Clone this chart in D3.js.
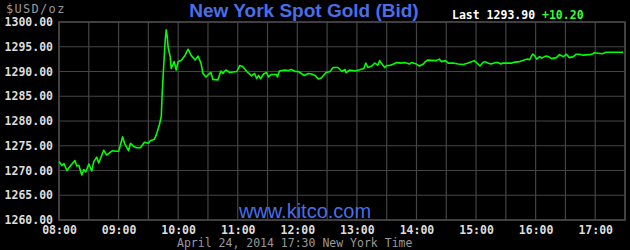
<!DOCTYPE html>
<html>
<head>
<meta charset="utf-8">
<script src="https://cdn.jsdelivr.net/npm/d3@7"></script>
<style>
  body { margin: 0; background: #000; }
  svg { display: block; }
  .mono { font-family: "DejaVu Sans Mono", "Liberation Mono", monospace; }
</style>
</head>
<body>
<svg id="chart" width="630" height="250"></svg>
<script>
// minutes after 08:00 and the bid at that time
const minutes = [0, 3, 5, 8, 11, 16, 18, 20, 23, 25, 27, 30, 33, 35, 38, 40, 45, 48, 51, 54,
  57, 60, 61, 64, 66, 70, 72, 75, 78, 82, 86, 90, 92, 96, 98, 101, 103, 104, 105, 107,
  108, 109, 110, 112, 113, 116, 118, 120, 123, 127, 130, 133, 137, 140, 143, 145, 148, 150, 153, 155,
  160, 161, 163, 165, 168, 172, 179, 182, 185, 189, 194, 197, 199, 201, 203, 206, 209, 211, 214, 219,
  220, 222, 227, 231, 234, 238, 241, 244, 247, 251, 254, 258, 261, 264, 269, 273, 276, 281, 285, 288,
  289, 293, 298, 302, 307, 309, 311, 315, 318, 321, 323, 326, 328, 330, 333, 337, 340, 345, 348, 353,
  355, 360, 363, 367, 369, 371, 380, 383, 385, 389, 392, 397, 402, 407, 412, 416, 418, 421, 424, 427,
  429, 432, 435, 440, 442, 445, 447, 456, 459, 464, 467, 471, 474, 477, 479, 481, 484, 486, 490, 493,
  496, 501, 504, 508, 511, 514, 518, 521, 524, 528, 534, 538, 539, 547, 551, 568];
const bids = [1271.8, 1271.0, 1271.4, 1270.0, 1270.8, 1272.0, 1270.9, 1271.0, 1269.1, 1270.2, 1269.7, 1271.3, 1269.9, 1271.8, 1272.7, 1271.5, 1274.1, 1273.1, 1273.6, 1274.0,
  1273.9, 1273.9, 1274.5, 1276.8, 1275.5, 1274.0, 1275.5, 1274.9, 1274.6, 1274.6, 1275.7, 1275.5, 1276.0, 1276.3, 1277.2, 1279.2, 1280.9, 1285.9, 1289.6, 1296.4,
  1298.4, 1297.0, 1294.7, 1293.0, 1290.6, 1292.0, 1290.3, 1292.0, 1292.2, 1293.3, 1294.5, 1293.3, 1292.3, 1293.1, 1291.7, 1289.6, 1288.9, 1289.3, 1289.8, 1288.4,
  1288.3, 1288.9, 1290.1, 1289.6, 1290.3, 1289.8, 1290.0, 1291.2, 1291.0, 1290.0, 1289.1, 1289.6, 1288.6, 1289.2, 1288.5, 1289.5, 1289.8, 1288.9, 1289.4, 1289.4,
  1288.9, 1290.1, 1290.3, 1290.2, 1290.4, 1290.0, 1290.0, 1289.6, 1289.2, 1289.6, 1289.5, 1289.2, 1288.5, 1288.7, 1289.8, 1290.0, 1290.8, 1290.8, 1290.0, 1290.4,
  1289.8, 1290.3, 1290.1, 1290.3, 1290.6, 1291.7, 1290.8, 1291.1, 1291.7, 1291.3, 1292.2, 1291.3, 1290.8, 1291.2, 1291.2, 1291.5, 1291.8, 1291.7, 1291.8, 1291.5,
  1291.8, 1291.5, 1291.1, 1291.5, 1292.0, 1292.3, 1292.2, 1292.5, 1292.0, 1292.2, 1291.7, 1291.7, 1291.5, 1291.4, 1291.7, 1292.0, 1292.2, 1291.7, 1291.1, 1291.8,
  1292.0, 1291.7, 1291.5, 1291.8, 1291.8, 1291.5, 1291.7, 1291.7, 1291.9, 1292.0, 1292.2, 1292.5, 1292.4, 1293.5, 1293.2, 1292.5, 1293.0, 1292.7, 1293.1, 1293.0,
  1292.6, 1292.8, 1293.4, 1293.0, 1293.5, 1292.8, 1293.0, 1293.5, 1293.5, 1293.3, 1293.4, 1293.6, 1293.8, 1293.6, 1293.9, 1293.9];

const priceTicks = [1260, 1265, 1270, 1275, 1280, 1285, 1290, 1295, 1300];
const hourLabels = ["08:00", "09:00", "10:00", "11:00", "12:00", "13:00", "14:00", "15:00", "16:00", "17:00"];
const lastPrice = "1293.90";
const change = "+10.20";

const margin = { top: 22, right: 5, bottom: 30, left: 59 };
const width = 630, height = 250;

const svg = d3.select("#chart");
svg.append("rect").attr("width", width).attr("height", height).attr("fill", "#000");

const x = d3.scaleLinear().domain([0, 570]).range([margin.left, width - margin.right]);
const y = d3.scaleLinear().domain([1260, 1300]).range([height - margin.bottom, margin.top]);

// grid: every half hour, every 5 dollars
const halfHours = d3.range(0, 571, 30);
svg.append("g")
  .selectAll("line")
  .data(halfHours)
  .enter().append("line")
  .attr("x1", d => x(d)).attr("x2", d => x(d))
  .attr("y1", y(1300)).attr("y2", y(1260))
  .attr("stroke", "#444").attr("stroke-width", 1.2);

svg.append("g")
  .selectAll("line")
  .data(priceTicks)
  .enter().append("line")
  .attr("x1", x(0)).attr("x2", x(570))
  .attr("y1", d => y(d)).attr("y2", d => y(d))
  .attr("stroke", "#444").attr("stroke-width", 1.2);

svg.append("rect")
  .attr("x", x(0)).attr("y", y(1300))
  .attr("width", x(570) - x(0)).attr("height", y(1260) - y(1300))
  .attr("fill", "none").attr("stroke", "#4a4a4a").attr("stroke-width", 1.5);

// axes, only the labels are kept
const yAxis = d3.axisLeft(y).tickValues(priceTicks).tickFormat(d3.format(".2f")).tickSize(0).tickPadding(6);
svg.append("g")
  .attr("transform", `translate(${x(0)},0)`)
  .call(yAxis)
  .call(g => g.select(".domain").remove())
  .call(g => g.selectAll("text")
    .attr("class", "mono")
    .attr("fill", "#ddd")
    .style("font-size", "11.5px")
    .style("font-weight", "bold"));

const xAxis = d3.axisBottom(x)
  .tickValues(hourLabels.map((d, i) => i * 60))
  .tickFormat((d, i) => hourLabels[i])
  .tickSize(0).tickPadding(6);
svg.append("g")
  .attr("transform", `translate(0,${y(1260)})`)
  .call(xAxis)
  .call(g => g.select(".domain").remove())
  .call(g => g.selectAll("text")
    .attr("class", "mono")
    .attr("fill", "#ddd")
    .style("font-size", "11.5px")
    .style("font-weight", "bold"));

// watermark
svg.append("text")
  .attr("x", 305).attr("y", 218)
  .attr("text-anchor", "middle")
  .attr("fill", "#4a6ee8")
  .style("font-family", "Arial, 'Liberation Sans', sans-serif")
  .style("font-size", "20px")
  .text("www.kitco.com");

// price line
const data = minutes.map((m, i) => ({ m: m, v: bids[i] }));
const line = d3.line().x(d => x(d.m)).y(d => y(d.v));
svg.append("path")
  .datum(data)
  .attr("d", line)
  .attr("fill", "none")
  .attr("stroke", "#00ff00")
  .attr("stroke-width", 1.6)
  .attr("stroke-linejoin", "round");

// header
svg.append("text")
  .attr("x", 6).attr("y", 13)
  .attr("class", "mono")
  .attr("fill", "#999")
  .style("font-size", "12px")
  .style("letter-spacing", "1.3px")
  .text("$USD/oz");

svg.append("text")
  .attr("x", 304).attr("y", 17)
  .attr("text-anchor", "middle")
  .attr("fill", "#4a6ee8")
  .style("font-family", "Arial, 'Liberation Sans', sans-serif")
  .style("font-size", "19px")
  .style("font-weight", "bold")
  .text("New York Spot Gold (Bid)");

const last = svg.append("text")
  .attr("x", 452).attr("y", 19)
  .attr("class", "mono")
  .style("font-size", "11.5px")
  .style("font-weight", "bold");
last.append("tspan").attr("fill", "#fff").text("Last " + lastPrice + " ");
last.append("tspan").attr("fill", "#33ff33").text(change);

svg.append("text")
  .attr("x", 177).attr("y", 247)
  .attr("class", "mono")
  .attr("fill", "#999")
  .style("font-size", "11.5px")
  .text("April 24, 2014 17:30 New York Time");
</script>
</body>
</html>
